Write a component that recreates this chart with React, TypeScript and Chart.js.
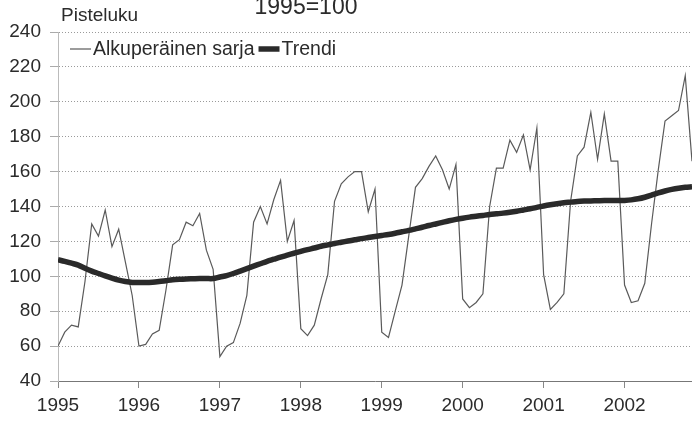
import React, { useEffect, useRef } from "react";
import { Chart, registerables } from "chart.js";

Chart.register(...registerables);

const TITLE = "1995=100";
const Y_UNIT = "Pisteluku";
const SERIES_NAMES = ["Alkuperäinen sarja", "Trendi"];

const START_YEAR = 1995;
const END_YEAR_FRACTION = 2002 + 10 / 12; // last month: Nov 2002
const Y_MIN = 40;
const Y_MAX = 240;
const Y_STEP = 20;

// Original (unadjusted) monthly series
const orig1995 = [60, 68, 72, 71, 97, 130, 123, 138, 117, 127, 108, 89];
const orig1996 = [60, 61, 67, 69, 92, 118, 121, 131, 129, 136, 115, 104];
const orig1997 = [54, 60, 62, 73, 89, 131, 140, 130, 144, 155, 120, 132];
const orig1998 = [70, 66, 72, 87, 101, 143, 153, 157, 160, 160, 137, 150];
const orig1999 = [68, 65, 80, 95, 123, 151, 156, 163, 169, 161, 150, 164];
const orig2000 = [87, 82, 85, 90, 140, 162, 162, 178, 171, 181, 161, 185];
const orig2001 = [101, 81, 85, 90, 143, 169, 174, 194, 167, 193, 166, 166];
const orig2002 = [95, 85, 86, 96, 130, 161, 189, 192, 195, 215, 166];

// Trend monthly series
const trend1995 = [109.5, 108.6, 107.5, 106.4, 104.6, 103, 101.6, 100.2, 98.9, 97.8, 97, 96.5];
const trend1996 = [96.4, 96.4, 96.6, 97, 97.5, 98, 98.3, 98.5, 98.6, 98.7, 98.7, 98.7];
const trend1997 = [99.6, 100.4, 101.6, 103, 104.4, 105.8, 107.2, 108.6, 109.8, 111, 112.1, 113.2];
const trend1998 = [114.3, 115.3, 116.2, 117.2, 118, 118.8, 119.5, 120.2, 120.9, 121.6, 122.2, 122.8];
const trend1999 = [123.4, 124, 124.7, 125.5, 126.3, 127.2, 128.1, 129.1, 130, 130.9, 131.8, 132.6];
const trend2000 = [133.3, 133.9, 134.4, 134.9, 135.4, 135.8, 136.2, 136.7, 137.3, 138, 138.7, 139.5];
const trend2001 = [140.3, 141, 141.6, 142.1, 142.5, 142.9, 143.1, 143.2, 143.3, 143.4, 143.4, 143.4];
const trend2002 = [143.5, 143.8, 144.4, 145.3, 146.5, 147.8, 148.9, 149.8, 150.5, 151, 151.3];

const originalValues = [
  ...orig1995, ...orig1996, ...orig1997, ...orig1998,
  ...orig1999, ...orig2000, ...orig2001, ...orig2002,
];
const trendValues = [
  ...trend1995, ...trend1996, ...trend1997, ...trend1998,
  ...trend1999, ...trend2000, ...trend2001, ...trend2002,
];

const toPoints = (vals: number[]) =>
  vals.map((v, i) => ({ x: START_YEAR + i / 12, y: v }));

const FONT = '"Liberation Sans", Arial, Helvetica, sans-serif';
const TEXT = "#2b2b2b";

const textPlugin = {
  id: "extraTexts",
  afterDraw(chart: any) {
    const { ctx, chartArea } = chart;
    ctx.save();
    ctx.fillStyle = TEXT;
    ctx.textBaseline = "alphabetic";
    ctx.textAlign = "left";
    ctx.font = `19px ${FONT}`;
    ctx.fillText(Y_UNIT, chartArea.left + 3, 21);
    ctx.textAlign = "center";
    ctx.font = `23px ${FONT}`;
    ctx.fillText(TITLE, chartArea.left + 248, 14);
    ctx.restore();
  },
};

// In-plot legend drawn from the chart's datasets
const legendPlugin = {
  id: "insideLegend",
  afterDraw(chart: any) {
    const { ctx, chartArea } = chart;
    ctx.save();
    ctx.font = `19.5px ${FONT}`;
    ctx.textBaseline = "middle";
    ctx.textAlign = "left";
    let x = chartArea.left + 12;
    const y = chartArea.top + 17;
    chart.data.datasets.forEach((ds: any) => {
      ctx.strokeStyle = ds.borderColor;
      ctx.lineWidth = ds.borderWidth;
      ctx.lineCap = "butt";
      ctx.beginPath();
      ctx.moveTo(x, y);
      ctx.lineTo(x + 21, y);
      ctx.stroke();
      x += 23;
      ctx.fillStyle = TEXT;
      ctx.fillText(ds.label, x, y + 1);
      x += ctx.measureText(ds.label).width + 4;
    });
    ctx.restore();
  },
};

export default function App() {
  const ref = useRef<HTMLCanvasElement | null>(null);

  useEffect(() => {
    document.body.style.margin = "0";
    const canvas = ref.current;
    if (!canvas) return;
    const chart = new Chart(canvas, {
      type: "line",
      data: {
        datasets: [
          {
            label: SERIES_NAMES[0],
            data: toPoints(originalValues),
            borderColor: "#5a5a5a",
            backgroundColor: "#5a5a5a",
            borderWidth: 1.2,
            pointRadius: 0,
            tension: 0,
            order: 2,
          },
          {
            label: SERIES_NAMES[1],
            data: toPoints(trendValues),
            borderColor: "#2a2a2a",
            backgroundColor: "#2a2a2a",
            borderWidth: 5.5,
            pointRadius: 0,
            tension: 0.3,
            order: 1,
          },
        ],
      },
      options: {
        animation: false,
        responsive: false,
        maintainAspectRatio: false,
        layout: { padding: { top: 32, right: 0, bottom: 0, left: 0 } },
        plugins: {
          legend: { display: false },
          tooltip: { enabled: false },
        },
        scales: {
          x: {
            type: "linear",
            min: START_YEAR,
            max: END_YEAR_FRACTION,
            ticks: {
              stepSize: 1,
              includeBounds: false,
              color: TEXT,
              font: { size: 19, family: FONT },
              padding: 6,
              maxRotation: 0,
              callback: (v: any) => String(v),
            },
            grid: {
              drawOnChartArea: false,
              tickLength: 7,
              color: "#888888",
            },
            border: { color: "#777777", width: 1 },
            afterFit: (s: any) => {
              s.height = 42;
            },
          },
          y: {
            min: Y_MIN,
            max: Y_MAX,
            ticks: {
              stepSize: Y_STEP,
              color: TEXT,
              font: { size: 19, family: FONT },
              padding: 9,
            },
            grid: {
              color: "#9a9a9a",
              tickLength: 8,
              tickColor: "#aaaaaa",
            },
            border: { color: "#bbbbbb", width: 1, dash: [1, 2] },
            afterFit: (s: any) => {
              s.width = 58;
            },
          },
        },
      },
      plugins: [textPlugin, legendPlugin],
    } as any);
    return () => chart.destroy();
  }, []);

  return (
    <div style={{ width: 692, height: 423 }}>
      <canvas ref={ref} width={692} height={423} style={{ display: "block" }} />
    </div>
  );
}
